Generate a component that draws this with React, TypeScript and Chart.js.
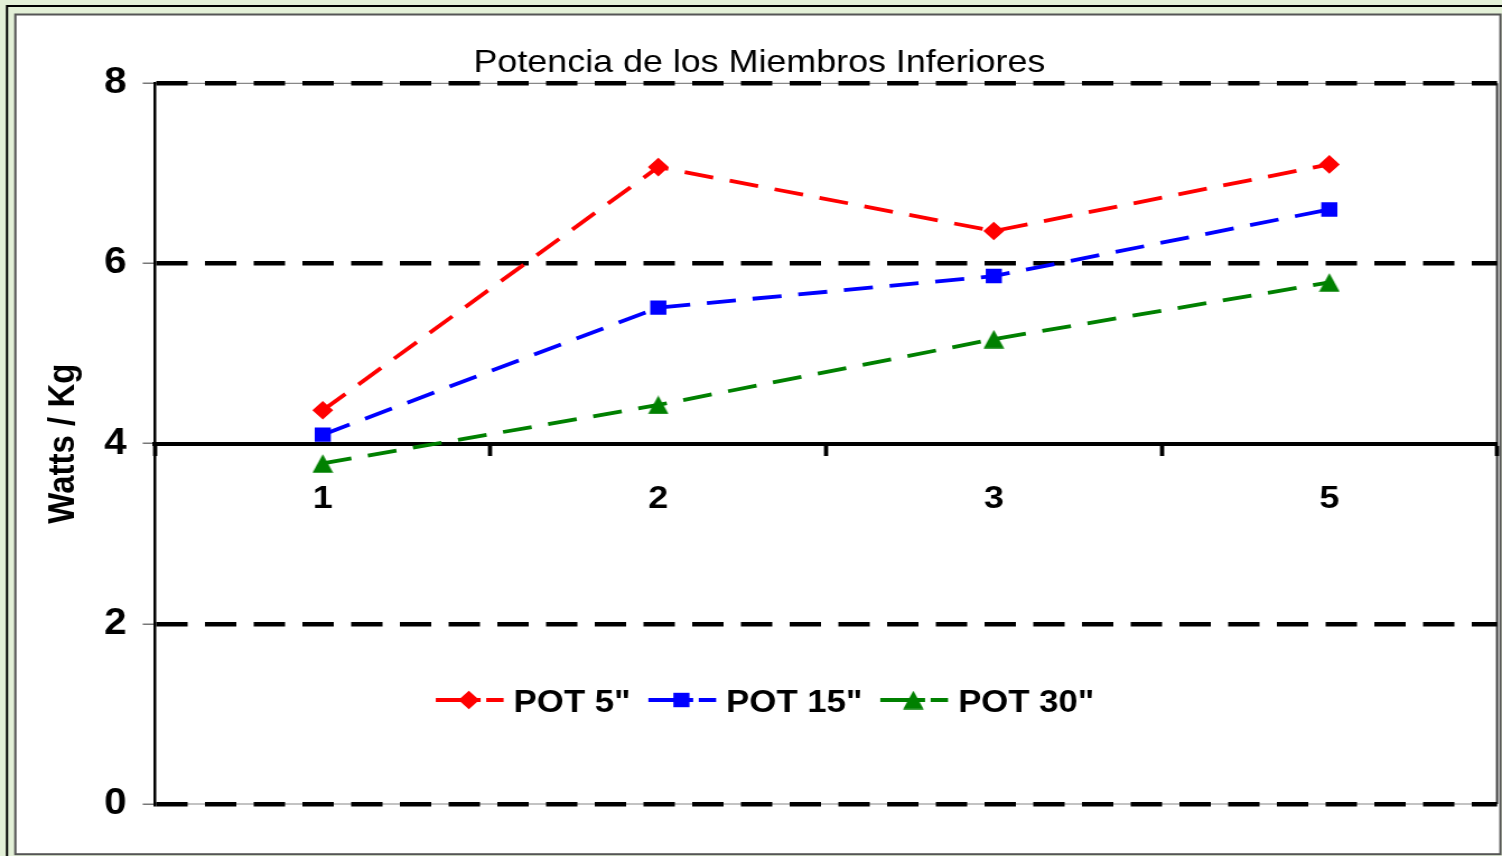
import React, { useEffect, useRef } from 'react';
import { Chart, registerables } from 'chart.js';

Chart.register(...registerables);

// ---- data ----
const categories = ['1', '2', '3', '5'];
const pot5 = [4.37, 7.07, 6.36, 7.1];
const pot15 = [4.1, 5.51, 5.86, 6.6];
const pot30 = [3.78, 4.43, 5.16, 5.79];
const yTicks = [0, 2, 4, 6, 8];
const seriesNames = ['POT 5"', 'POT 15"', 'POT 30"'];
const seriesColors = ['#ff0000', '#0000ff', '#008000'];
const chartTitle = 'Potencia de los Miembros Inferiores';
const yTitle = 'Watts / Kg';

// ---- layout (the original picture is stretched horizontally) ----
const STRETCH = 1.12;
const VIEW_W = 1502;
const VIEW_H = 856;
const W = Math.round(VIEW_W / STRETCH);
const H = VIEW_H;
const FONT = '"Liberation Sans", Arial, Helvetica, sans-serif';

function makeTriangle(color: string) {
  const c = document.createElement('canvas');
  c.width = 19;
  c.height = 19;
  const g = c.getContext('2d')!;
  g.fillStyle = color;
  g.beginPath();
  g.moveTo(9.5, 0.3);
  g.lineTo(18.7, 18.7);
  g.lineTo(0.3, 18.7);
  g.closePath();
  g.fill();
  return c;
}

const framePlugin = {
  id: 'frame',
  beforeDraw(chart: any) {
    const { ctx, chartArea: a } = chart;
    ctx.save();
    ctx.fillStyle = '#e3f0d7';
    ctx.fillRect(0, 0, W, H);
    ctx.strokeStyle = '#000';
    ctx.lineWidth = 2;
    ctx.strokeRect(6.25, 6, W + 100, H + 100);
    ctx.fillStyle = '#ffffff';
    ctx.fillRect(13.7, 14.5, 1339.6 - 13.7, 854.2 - 14.5);
    ctx.strokeStyle = '#555';
    ctx.lineWidth = 2;
    ctx.strokeRect(13.7, 14.5, 1339.6 - 13.7, 854.2 - 14.5);
    // plot area border
    ctx.strokeStyle = '#888';
    ctx.lineWidth = 1.2;
    ctx.beginPath();
    ctx.moveTo(a.left, a.top);
    ctx.lineTo(a.right, a.top);
    ctx.moveTo(a.left, a.bottom);
    ctx.lineTo(a.right, a.bottom);
    ctx.stroke();
    ctx.strokeStyle = '#404040';
    ctx.lineWidth = 2;
    ctx.beginPath();
    ctx.moveTo(a.right, a.top);
    ctx.lineTo(a.right, a.bottom);
    ctx.stroke();
    ctx.restore();
  },
};

const textPlugin = {
  id: 'texts',
  afterDraw(chart: any) {
    const { ctx, chartArea: a } = chart;
    ctx.save();
    // title
    ctx.fillStyle = '#000';
    ctx.font = `32px ${FONT}`;
    ctx.textAlign = 'center';
    ctx.textBaseline = 'alphabetic';
    ctx.fillText(chartTitle, 678, 72);

    // legend
    ctx.font = `bold 31px ${FONT}`;
    ctx.textAlign = 'left';
    const widths = seriesNames.map((n) => ctx.measureText(n).width);
    const sampleW = 69.5;
    const spacing = 16;
    const total = widths.reduce((s, w) => s + w + sampleW, 0) + spacing * (seriesNames.length - 1);
    let x = 683 - total / 2;
    const rowY = a.bottom - 104;
    const baseY = a.bottom - 92;
    const styles = chart.data.datasets.map((d: any) => d.pointStyle);
    seriesNames.forEach((name, i) => {
      const col = seriesColors[i];
      ctx.strokeStyle = col;
      ctx.lineWidth = 3.8;
      ctx.setLineDash([]);
      ctx.beginPath();
      ctx.moveTo(x, rowY);
      ctx.lineTo(x + 40, rowY);
      ctx.moveTo(x + 45, rowY);
      ctx.lineTo(x + 60.5, rowY);
      ctx.stroke();
      const mx = x + 29.5;
      ctx.fillStyle = col;
      const st = styles[i];
      if (st === 'rectRot') {
        ctx.beginPath();
        ctx.moveTo(mx, rowY - 9.3);
        ctx.lineTo(mx + 9.3, rowY);
        ctx.lineTo(mx, rowY + 9.3);
        ctx.lineTo(mx - 9.3, rowY);
        ctx.closePath();
        ctx.fill();
      } else if (st === 'rect') {
        ctx.fillRect(mx - 7.2, rowY - 7.2, 14.4, 14.4);
      } else if (st && st.width) {
        ctx.drawImage(st, mx - st.width / 2, rowY - st.height / 2);
      }
      ctx.fillStyle = '#000';
      ctx.fillText(name, x + sampleW, baseY);
      x += sampleW + widths[i] + spacing;
    });
    ctx.restore();
  },
};

export default function App() {
  const ref = useRef<HTMLCanvasElement>(null);
  useEffect(() => {
    document.body.style.margin = '0';
    document.body.style.overflow = 'hidden';
    const canvas = ref.current!;
    const tri = makeTriangle(seriesColors[2]);
    const common = {
      borderWidth: 3.8,
      borderDash: [26, 15],
      fill: false,
      tension: 0,
      pointBorderWidth: 0,
      pointHoverRadius: 9,
    };
    const chart = new Chart(canvas, {
      type: 'line',
      data: {
        labels: categories,
        datasets: [
          {
            ...common,
            label: seriesNames[0],
            data: pot5,
            borderColor: seriesColors[0],
            backgroundColor: seriesColors[0],
            pointBackgroundColor: seriesColors[0],
            pointBorderColor: seriesColors[0],
            pointStyle: 'rectRot',
            pointRadius: 9.3,
          },
          {
            ...common,
            label: seriesNames[1],
            data: pot15,
            borderColor: seriesColors[1],
            backgroundColor: seriesColors[1],
            pointBackgroundColor: seriesColors[1],
            pointBorderColor: seriesColors[1],
            pointStyle: 'rect',
            pointRadius: 10.2,
          },
          {
            ...common,
            label: seriesNames[2],
            data: pot30,
            borderColor: seriesColors[2],
            backgroundColor: seriesColors[2],
            pointBackgroundColor: seriesColors[2],
            pointBorderColor: seriesColors[2],
            pointStyle: tri as any,
            pointRadius: 9.5,
          },
        ],
      },
      options: {
        responsive: false,
        animation: false,
        devicePixelRatio: 1,
        layout: {
          autoPadding: false,
          padding: { left: 0, right: W - 1336.6, top: 83.3, bottom: 52 },
        },
        plugins: {
          legend: { display: false },
          title: { display: false },
          tooltip: { enabled: false },
        },
        scales: {
          x: {
            type: 'category',
            offset: true,
            position: { y: 4 } as any,
            afterFit: (scale: any) => {
              scale.paddingLeft = 0;
              scale.paddingRight = 0;
            },
            grid: {
              offset: true,
              drawOnChartArea: false,
              drawTicks: true,
              tickLength: 10,
              tickWidth: 3.8,
              tickColor: '#000',
            },
            border: { display: true, color: '#000', width: 4 },
            ticks: {
              color: '#000',
              font: { family: FONT, size: 32, weight: 'bold' },
              padding: 26,
              maxRotation: 0,
              autoSkip: false,
            },
          },
          y: {
            type: 'linear',
            position: 'left',
            min: 0,
            max: 8,
            afterBuildTicks: (scale: any) => {
              scale.ticks = yTicks.map((v) => ({ value: v }));
            },
            afterFit: (scale: any) => {
              scale.width = 138.4;
            },
            grid: {
              color: (c: any) => (c.tick && c.tick.value === 4 ? 'rgba(0,0,0,0)' : '#000'),
              lineWidth: 4.5,
              drawTicks: true,
              tickLength: 11,
              tickWidth: 1.5,
              tickColor: '#777',
            },
            border: { display: true, color: '#000', width: 2.5, dash: [28, 15.5] },
            ticks: {
              color: '#000',
              font: { family: FONT, size: 36, weight: 'bold' },
              padding: 14.5,
            },
            title: {
              display: true,
              text: yTitle,
              color: '#000',
              font: { family: FONT, size: 33, weight: 'bold' },
              padding: { top: 37.5, bottom: 0 },
            },
          },
        },
      },
      plugins: [framePlugin, textPlugin],
    });
    return () => chart.destroy();
  }, []);
  return (
    <canvas
      ref={ref}
      width={W}
      height={H}
      style={{ display: 'block', width: VIEW_W + 'px', height: VIEW_H + 'px' }}
    />
  );
}
